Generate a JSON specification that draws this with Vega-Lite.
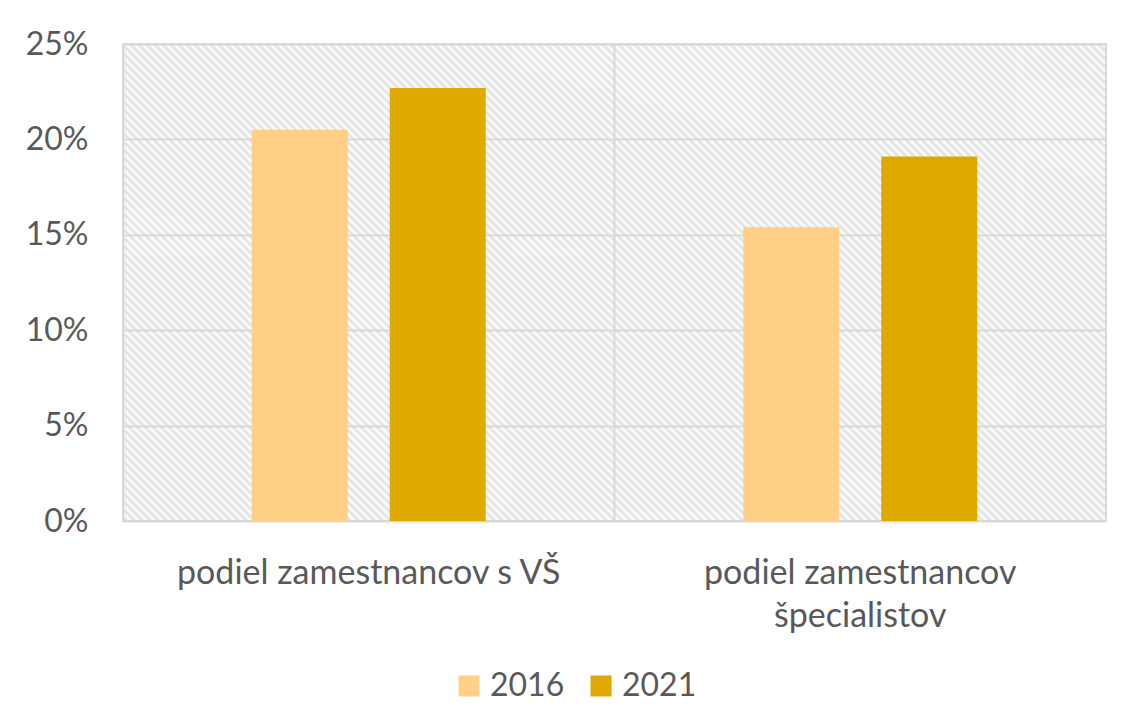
{
  "$schema": "https://vega.github.io/schema/vega-lite/v6.json",
  "width": 983,
  "height": 477,
  "autosize": "none",
  "padding": {"left": 123, "top": 44, "right": 16, "bottom": 203},
  "background": "white",
  "data": {
    "values": [
      {"kategoria": "podiel zamestnancov s VŠ", "rok": "2016", "podiel": 0.205},
      {"kategoria": "podiel zamestnancov s VŠ", "rok": "2021", "podiel": 0.227},
      {"kategoria": "podiel zamestnancov špecialistov", "rok": "2016", "podiel": 0.154},
      {"kategoria": "podiel zamestnancov špecialistov", "rok": "2021", "podiel": 0.191}
    ]
  },
  "mark": {"type": "bar"},
  "encoding": {
    "x": {
      "field": "kategoria",
      "type": "nominal",
      "sort": null,
      "scale": {"paddingInner": 0, "paddingOuter": 0},
      "axis": {
        "title": null,
        "labelAngle": 0,
        "domain": false,
        "ticks": false,
        "grid": true,
        "bandPosition": 0,
        "gridColor": "#d9d9d9",
        "gridWidth": 2,
        "labelFont": "Lato",
        "labelFontSize": 34,
        "labelColor": "#595959",
        "labelPadding": 35,
        "labelLimit": 0,
        "labelBaseline": "top",
        "labelLineHeight": 43,
        "labelExpr": "datum.label == 'podiel zamestnancov špecialistov' ? ['podiel zamestnancov', 'špecialistov'] : datum.label"
      }
    },
    "xOffset": {
      "field": "rok",
      "type": "nominal",
      "scale": {"paddingInner": 0.304, "paddingOuter": 0.933}
    },
    "y": {
      "field": "podiel",
      "type": "quantitative",
      "scale": {"domain": [0, 0.25], "nice": false},
      "axis": {
        "title": null,
        "values": [0, 0.05, 0.1, 0.15, 0.2, 0.25],
        "format": ".0%",
        "domain": false,
        "ticks": false,
        "gridColor": "#d9d9d9",
        "gridWidth": 2,
        "labelFont": "Lato",
        "labelFontSize": 32,
        "labelColor": "#595959",
        "labelPadding": 35
      }
    },
    "color": {
      "field": "rok",
      "type": "nominal",
      "scale": {"domain": ["2016", "2021"], "range": ["#FFD085", "#E0A900"]},
      "legend": {
        "title": null,
        "orient": "none",
        "direction": "horizontal",
        "legendX": 330,
        "legendY": 626,
        "symbolType": "square",
        "symbolSize": 441,
        "symbolStrokeWidth": 0,
        "symbolOpacity": 1,
        "labelFont": "Lato",
        "labelFontSize": 32,
        "labelColor": "#595959",
        "labelOffset": 5,
        "columnPadding": 20
      }
    }
  },
  "config": {
    "view": {
      "stroke": "#d9d9d9",
      "strokeWidth": 2,
      "fill": {
        "gradient": "linear",
        "x1": 0, "y1": 1, "x2": 1.3174, "y2": 0.3607,
        "stops": [
{"offset":0,"color":"#fff"},{"offset":0.0025,"color":"#e0e0e0"},{"offset":0.005,"color":"#fff"},{"offset":0.0075,"color":"#e0e0e0"},
{"offset":0.01,"color":"#fff"},{"offset":0.0125,"color":"#e0e0e0"},{"offset":0.015,"color":"#fff"},{"offset":0.0175,"color":"#e0e0e0"},
{"offset":0.02,"color":"#fff"},{"offset":0.0225,"color":"#e0e0e0"},{"offset":0.025,"color":"#fff"},{"offset":0.0275,"color":"#e0e0e0"},
{"offset":0.03,"color":"#fff"},{"offset":0.0325,"color":"#e0e0e0"},{"offset":0.035,"color":"#fff"},{"offset":0.0375,"color":"#e0e0e0"},
{"offset":0.04,"color":"#fff"},{"offset":0.0425,"color":"#e0e0e0"},{"offset":0.045,"color":"#fff"},{"offset":0.0475,"color":"#e0e0e0"},
{"offset":0.05,"color":"#fff"},{"offset":0.0525,"color":"#e0e0e0"},{"offset":0.055,"color":"#fff"},{"offset":0.0575,"color":"#e0e0e0"},
{"offset":0.06,"color":"#fff"},{"offset":0.0625,"color":"#e0e0e0"},{"offset":0.065,"color":"#fff"},{"offset":0.0675,"color":"#e0e0e0"},
{"offset":0.07,"color":"#fff"},{"offset":0.0725,"color":"#e0e0e0"},{"offset":0.075,"color":"#fff"},{"offset":0.0775,"color":"#e0e0e0"},
{"offset":0.08,"color":"#fff"},{"offset":0.0825,"color":"#e0e0e0"},{"offset":0.085,"color":"#fff"},{"offset":0.0875,"color":"#e0e0e0"},
{"offset":0.09,"color":"#fff"},{"offset":0.0925,"color":"#e0e0e0"},{"offset":0.095,"color":"#fff"},{"offset":0.0975,"color":"#e0e0e0"},
{"offset":0.1,"color":"#fff"},{"offset":0.1025,"color":"#e0e0e0"},{"offset":0.105,"color":"#fff"},{"offset":0.1075,"color":"#e0e0e0"},
{"offset":0.11,"color":"#fff"},{"offset":0.1125,"color":"#e0e0e0"},{"offset":0.115,"color":"#fff"},{"offset":0.1175,"color":"#e0e0e0"},
{"offset":0.12,"color":"#fff"},{"offset":0.1225,"color":"#e0e0e0"},{"offset":0.125,"color":"#fff"},{"offset":0.1275,"color":"#e0e0e0"},
{"offset":0.13,"color":"#fff"},{"offset":0.1325,"color":"#e0e0e0"},{"offset":0.135,"color":"#fff"},{"offset":0.1375,"color":"#e0e0e0"},
{"offset":0.14,"color":"#fff"},{"offset":0.1425,"color":"#e0e0e0"},{"offset":0.145,"color":"#fff"},{"offset":0.1475,"color":"#e0e0e0"},
{"offset":0.15,"color":"#fff"},{"offset":0.1525,"color":"#e0e0e0"},{"offset":0.155,"color":"#fff"},{"offset":0.1575,"color":"#e0e0e0"},
{"offset":0.16,"color":"#fff"},{"offset":0.1625,"color":"#e0e0e0"},{"offset":0.165,"color":"#fff"},{"offset":0.1675,"color":"#e0e0e0"},
{"offset":0.17,"color":"#fff"},{"offset":0.1725,"color":"#e0e0e0"},{"offset":0.175,"color":"#fff"},{"offset":0.1775,"color":"#e0e0e0"},
{"offset":0.18,"color":"#fff"},{"offset":0.1825,"color":"#e0e0e0"},{"offset":0.185,"color":"#fff"},{"offset":0.1875,"color":"#e0e0e0"},
{"offset":0.19,"color":"#fff"},{"offset":0.1925,"color":"#e0e0e0"},{"offset":0.195,"color":"#fff"},{"offset":0.1975,"color":"#e0e0e0"},
{"offset":0.2,"color":"#fff"},{"offset":0.2025,"color":"#e0e0e0"},{"offset":0.205,"color":"#fff"},{"offset":0.2075,"color":"#e0e0e0"},
{"offset":0.21,"color":"#fff"},{"offset":0.2125,"color":"#e0e0e0"},{"offset":0.215,"color":"#fff"},{"offset":0.2175,"color":"#e0e0e0"},
{"offset":0.22,"color":"#fff"},{"offset":0.2225,"color":"#e0e0e0"},{"offset":0.225,"color":"#fff"},{"offset":0.2275,"color":"#e0e0e0"},
{"offset":0.23,"color":"#fff"},{"offset":0.2325,"color":"#e0e0e0"},{"offset":0.235,"color":"#fff"},{"offset":0.2375,"color":"#e0e0e0"},
{"offset":0.24,"color":"#fff"},{"offset":0.2425,"color":"#e0e0e0"},{"offset":0.245,"color":"#fff"},{"offset":0.2475,"color":"#e0e0e0"},
{"offset":0.25,"color":"#fff"},{"offset":0.2525,"color":"#e0e0e0"},{"offset":0.255,"color":"#fff"},{"offset":0.2575,"color":"#e0e0e0"},
{"offset":0.26,"color":"#fff"},{"offset":0.2625,"color":"#e0e0e0"},{"offset":0.265,"color":"#fff"},{"offset":0.2675,"color":"#e0e0e0"},
{"offset":0.27,"color":"#fff"},{"offset":0.2725,"color":"#e0e0e0"},{"offset":0.275,"color":"#fff"},{"offset":0.2775,"color":"#e0e0e0"},
{"offset":0.28,"color":"#fff"},{"offset":0.2825,"color":"#e0e0e0"},{"offset":0.285,"color":"#fff"},{"offset":0.2875,"color":"#e0e0e0"},
{"offset":0.29,"color":"#fff"},{"offset":0.2925,"color":"#e0e0e0"},{"offset":0.295,"color":"#fff"},{"offset":0.2975,"color":"#e0e0e0"},
{"offset":0.3,"color":"#fff"},{"offset":0.3025,"color":"#e0e0e0"},{"offset":0.305,"color":"#fff"},{"offset":0.3075,"color":"#e0e0e0"},
{"offset":0.31,"color":"#fff"},{"offset":0.3125,"color":"#e0e0e0"},{"offset":0.315,"color":"#fff"},{"offset":0.3175,"color":"#e0e0e0"},
{"offset":0.32,"color":"#fff"},{"offset":0.3225,"color":"#e0e0e0"},{"offset":0.325,"color":"#fff"},{"offset":0.3275,"color":"#e0e0e0"},
{"offset":0.33,"color":"#fff"},{"offset":0.3325,"color":"#e0e0e0"},{"offset":0.335,"color":"#fff"},{"offset":0.3375,"color":"#e0e0e0"},
{"offset":0.34,"color":"#fff"},{"offset":0.3425,"color":"#e0e0e0"},{"offset":0.345,"color":"#fff"},{"offset":0.3475,"color":"#e0e0e0"},
{"offset":0.35,"color":"#fff"},{"offset":0.3525,"color":"#e0e0e0"},{"offset":0.355,"color":"#fff"},{"offset":0.3575,"color":"#e0e0e0"},
{"offset":0.36,"color":"#fff"},{"offset":0.3625,"color":"#e0e0e0"},{"offset":0.365,"color":"#fff"},{"offset":0.3675,"color":"#e0e0e0"},
{"offset":0.37,"color":"#fff"},{"offset":0.3725,"color":"#e0e0e0"},{"offset":0.375,"color":"#fff"},{"offset":0.3775,"color":"#e0e0e0"},
{"offset":0.38,"color":"#fff"},{"offset":0.3825,"color":"#e0e0e0"},{"offset":0.385,"color":"#fff"},{"offset":0.3875,"color":"#e0e0e0"},
{"offset":0.39,"color":"#fff"},{"offset":0.3925,"color":"#e0e0e0"},{"offset":0.395,"color":"#fff"},{"offset":0.3975,"color":"#e0e0e0"},
{"offset":0.4,"color":"#fff"},{"offset":0.4025,"color":"#e0e0e0"},{"offset":0.405,"color":"#fff"},{"offset":0.4075,"color":"#e0e0e0"},
{"offset":0.41,"color":"#fff"},{"offset":0.4125,"color":"#e0e0e0"},{"offset":0.415,"color":"#fff"},{"offset":0.4175,"color":"#e0e0e0"},
{"offset":0.42,"color":"#fff"},{"offset":0.4225,"color":"#e0e0e0"},{"offset":0.425,"color":"#fff"},{"offset":0.4275,"color":"#e0e0e0"},
{"offset":0.43,"color":"#fff"},{"offset":0.4325,"color":"#e0e0e0"},{"offset":0.435,"color":"#fff"},{"offset":0.4375,"color":"#e0e0e0"},
{"offset":0.44,"color":"#fff"},{"offset":0.4425,"color":"#e0e0e0"},{"offset":0.445,"color":"#fff"},{"offset":0.4475,"color":"#e0e0e0"},
{"offset":0.45,"color":"#fff"},{"offset":0.4525,"color":"#e0e0e0"},{"offset":0.455,"color":"#fff"},{"offset":0.4575,"color":"#e0e0e0"},
{"offset":0.46,"color":"#fff"},{"offset":0.4625,"color":"#e0e0e0"},{"offset":0.465,"color":"#fff"},{"offset":0.4675,"color":"#e0e0e0"},
{"offset":0.47,"color":"#fff"},{"offset":0.4725,"color":"#e0e0e0"},{"offset":0.475,"color":"#fff"},{"offset":0.4775,"color":"#e0e0e0"},
{"offset":0.48,"color":"#fff"},{"offset":0.4825,"color":"#e0e0e0"},{"offset":0.485,"color":"#fff"},{"offset":0.4875,"color":"#e0e0e0"},
{"offset":0.49,"color":"#fff"},{"offset":0.4925,"color":"#e0e0e0"},{"offset":0.495,"color":"#fff"},{"offset":0.4975,"color":"#e0e0e0"},
{"offset":0.5,"color":"#fff"},{"offset":0.5025,"color":"#e0e0e0"},{"offset":0.505,"color":"#fff"},{"offset":0.5075,"color":"#e0e0e0"},
{"offset":0.51,"color":"#fff"},{"offset":0.5125,"color":"#e0e0e0"},{"offset":0.515,"color":"#fff"},{"offset":0.5175,"color":"#e0e0e0"},
{"offset":0.52,"color":"#fff"},{"offset":0.5225,"color":"#e0e0e0"},{"offset":0.525,"color":"#fff"},{"offset":0.5275,"color":"#e0e0e0"},
{"offset":0.53,"color":"#fff"},{"offset":0.5325,"color":"#e0e0e0"},{"offset":0.535,"color":"#fff"},{"offset":0.5375,"color":"#e0e0e0"},
{"offset":0.54,"color":"#fff"},{"offset":0.5425,"color":"#e0e0e0"},{"offset":0.545,"color":"#fff"},{"offset":0.5475,"color":"#e0e0e0"},
{"offset":0.55,"color":"#fff"},{"offset":0.5525,"color":"#e0e0e0"},{"offset":0.555,"color":"#fff"},{"offset":0.5575,"color":"#e0e0e0"},
{"offset":0.56,"color":"#fff"},{"offset":0.5625,"color":"#e0e0e0"},{"offset":0.565,"color":"#fff"},{"offset":0.5675,"color":"#e0e0e0"},
{"offset":0.57,"color":"#fff"},{"offset":0.5725,"color":"#e0e0e0"},{"offset":0.575,"color":"#fff"},{"offset":0.5775,"color":"#e0e0e0"},
{"offset":0.58,"color":"#fff"},{"offset":0.5825,"color":"#e0e0e0"},{"offset":0.585,"color":"#fff"},{"offset":0.5875,"color":"#e0e0e0"},
{"offset":0.59,"color":"#fff"},{"offset":0.5925,"color":"#e0e0e0"},{"offset":0.595,"color":"#fff"},{"offset":0.5975,"color":"#e0e0e0"},
{"offset":0.6,"color":"#fff"},{"offset":0.6025,"color":"#e0e0e0"},{"offset":0.605,"color":"#fff"},{"offset":0.6075,"color":"#e0e0e0"},
{"offset":0.61,"color":"#fff"},{"offset":0.6125,"color":"#e0e0e0"},{"offset":0.615,"color":"#fff"},{"offset":0.6175,"color":"#e0e0e0"},
{"offset":0.62,"color":"#fff"},{"offset":0.6225,"color":"#e0e0e0"},{"offset":0.625,"color":"#fff"},{"offset":0.6275,"color":"#e0e0e0"},
{"offset":0.63,"color":"#fff"},{"offset":0.6325,"color":"#e0e0e0"},{"offset":0.635,"color":"#fff"},{"offset":0.6375,"color":"#e0e0e0"},
{"offset":0.64,"color":"#fff"},{"offset":0.6425,"color":"#e0e0e0"},{"offset":0.645,"color":"#fff"},{"offset":0.6475,"color":"#e0e0e0"},
{"offset":0.65,"color":"#fff"},{"offset":0.6525,"color":"#e0e0e0"},{"offset":0.655,"color":"#fff"},{"offset":0.6575,"color":"#e0e0e0"},
{"offset":0.66,"color":"#fff"},{"offset":0.6625,"color":"#e0e0e0"},{"offset":0.665,"color":"#fff"},{"offset":0.6675,"color":"#e0e0e0"},
{"offset":0.67,"color":"#fff"},{"offset":0.6725,"color":"#e0e0e0"},{"offset":0.675,"color":"#fff"},{"offset":0.6775,"color":"#e0e0e0"},
{"offset":0.68,"color":"#fff"},{"offset":0.6825,"color":"#e0e0e0"},{"offset":0.685,"color":"#fff"},{"offset":0.6875,"color":"#e0e0e0"},
{"offset":0.69,"color":"#fff"},{"offset":0.6925,"color":"#e0e0e0"},{"offset":0.695,"color":"#fff"},{"offset":0.6975,"color":"#e0e0e0"},
{"offset":0.7,"color":"#fff"},{"offset":0.7025,"color":"#e0e0e0"},{"offset":0.705,"color":"#fff"},{"offset":0.7075,"color":"#e0e0e0"},
{"offset":0.71,"color":"#fff"},{"offset":0.7125,"color":"#e0e0e0"},{"offset":0.715,"color":"#fff"},{"offset":0.7175,"color":"#e0e0e0"},
{"offset":0.72,"color":"#fff"},{"offset":0.7225,"color":"#e0e0e0"},{"offset":0.725,"color":"#fff"},{"offset":0.7275,"color":"#e0e0e0"},
{"offset":0.73,"color":"#fff"},{"offset":0.7325,"color":"#e0e0e0"},{"offset":0.735,"color":"#fff"},{"offset":0.7375,"color":"#e0e0e0"},
{"offset":0.74,"color":"#fff"},{"offset":0.7425,"color":"#e0e0e0"},{"offset":0.745,"color":"#fff"},{"offset":0.7475,"color":"#e0e0e0"},
{"offset":0.75,"color":"#fff"},{"offset":0.7525,"color":"#e0e0e0"},{"offset":0.755,"color":"#fff"},{"offset":0.7575,"color":"#e0e0e0"},
{"offset":0.76,"color":"#fff"},{"offset":0.7625,"color":"#e0e0e0"},{"offset":0.765,"color":"#fff"},{"offset":0.7675,"color":"#e0e0e0"},
{"offset":0.77,"color":"#fff"},{"offset":0.7725,"color":"#e0e0e0"},{"offset":0.775,"color":"#fff"},{"offset":0.7775,"color":"#e0e0e0"},
{"offset":0.78,"color":"#fff"},{"offset":0.7825,"color":"#e0e0e0"},{"offset":0.785,"color":"#fff"},{"offset":0.7875,"color":"#e0e0e0"},
{"offset":0.79,"color":"#fff"},{"offset":0.7925,"color":"#e0e0e0"},{"offset":0.795,"color":"#fff"},{"offset":0.7975,"color":"#e0e0e0"},
{"offset":0.8,"color":"#fff"},{"offset":0.8025,"color":"#e0e0e0"},{"offset":0.805,"color":"#fff"},{"offset":0.8075,"color":"#e0e0e0"},
{"offset":0.81,"color":"#fff"},{"offset":0.8125,"color":"#e0e0e0"},{"offset":0.815,"color":"#fff"},{"offset":0.8175,"color":"#e0e0e0"},
{"offset":0.82,"color":"#fff"},{"offset":0.8225,"color":"#e0e0e0"},{"offset":0.825,"color":"#fff"},{"offset":0.8275,"color":"#e0e0e0"},
{"offset":0.83,"color":"#fff"},{"offset":0.8325,"color":"#e0e0e0"},{"offset":0.835,"color":"#fff"},{"offset":0.8375,"color":"#e0e0e0"},
{"offset":0.84,"color":"#fff"},{"offset":0.8425,"color":"#e0e0e0"},{"offset":0.845,"color":"#fff"},{"offset":0.8475,"color":"#e0e0e0"},
{"offset":0.85,"color":"#fff"},{"offset":0.8525,"color":"#e0e0e0"},{"offset":0.855,"color":"#fff"},{"offset":0.8575,"color":"#e0e0e0"},
{"offset":0.86,"color":"#fff"},{"offset":0.8625,"color":"#e0e0e0"},{"offset":0.865,"color":"#fff"},{"offset":0.8675,"color":"#e0e0e0"},
{"offset":0.87,"color":"#fff"},{"offset":0.8725,"color":"#e0e0e0"},{"offset":0.875,"color":"#fff"},{"offset":0.8775,"color":"#e0e0e0"},
{"offset":0.88,"color":"#fff"},{"offset":0.8825,"color":"#e0e0e0"},{"offset":0.885,"color":"#fff"},{"offset":0.8875,"color":"#e0e0e0"},
{"offset":0.89,"color":"#fff"},{"offset":0.8925,"color":"#e0e0e0"},{"offset":0.895,"color":"#fff"},{"offset":0.8975,"color":"#e0e0e0"},
{"offset":0.9,"color":"#fff"},{"offset":0.9025,"color":"#e0e0e0"},{"offset":0.905,"color":"#fff"},{"offset":0.9075,"color":"#e0e0e0"},
{"offset":0.91,"color":"#fff"},{"offset":0.9125,"color":"#e0e0e0"},{"offset":0.915,"color":"#fff"},{"offset":0.9175,"color":"#e0e0e0"}
        ]
      }
    }
  }
}
